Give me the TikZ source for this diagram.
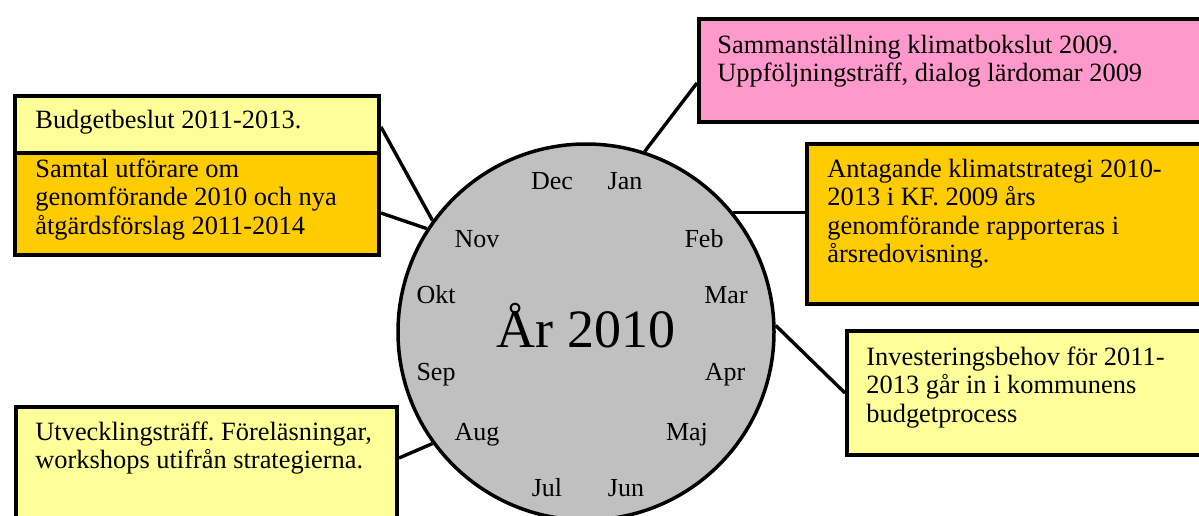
\documentclass[tikz,border=0pt]{standalone}
\usepackage{fontspec}
\setmainfont{Liberation Serif}
\usetikzlibrary{calc}
\definecolor{lyellow}{HTML}{FFFF99}
\definecolor{gold}{HTML}{FFCC00}
\definecolor{pinkbox}{HTML}{FF99CC}
\definecolor{greyc}{HTML}{C0C0C0}
\frenchspacing
\newcommand{\boxtext}[1]{\parbox[t]{300pt}{\raggedright #1}}
\begin{document}
\begin{tikzpicture}[x=0.5pt,y=-0.5pt,
 box/.style={draw=black,line width=2pt,rectangle,inner sep=0pt,anchor=north west},
 txt/.style={inner sep=0pt,anchor=base west,font=\fontsize{13.2}{14.3}\selectfont},
 mon/.style={inner sep=0pt,anchor=base,font=\fontsize{13}{14}\selectfont},
 conn/.style={line width=1.7pt}]
\useasboundingbox (0,0) rectangle (1199,515);
\clip (0,0) rectangle (1199,515);
% circle
\node[circle,draw=black,line width=1.75pt,fill=greyc,minimum size=188pt,inner sep=0pt] (circ) at (586,332) {};
% boxes
\node[box,fill=lyellow,minimum width=182pt,minimum height=28.5pt] (budtop) at (13,94) {};
\node[box,fill=gold,minimum width=182pt,minimum height=51pt] (samtal) at (13,151) {};
\node[box,fill=pinkbox,minimum width=266.5pt,minimum height=51.5pt] (pink) at (697,17) {};
\node[box,fill=gold,minimum width=212.5pt,minimum height=80pt] (antag) at (805,142) {};
\node[box,fill=lyellow,minimum width=192.5pt,minimum height=62pt] (invest) at (845,329) {};
\node[box,fill=lyellow,minimum width=190.5pt,minimum height=77.5pt] (utv) at (14,405) {};
% texts
\node[txt] (t1) at (35,128) {\boxtext{Budgetbeslut 2011-2013.}};
\node[txt] (t2) at (35,177) {\boxtext{Samtal utförare om\\genomförande 2010 och nya\\åtgärdsförslag 2011-2014}};
\node[txt] (t3) at (717,53) {\boxtext{Sammanställning klimatbokslut 2009.\\Uppföljningsträff, dialog lärdomar 2009}};
\node[txt] (t4) at (827,177) {\boxtext{Antagande klimatstrategi 2010-\\2013 i KF. 2009 års\\genomförande rapporteras i\\årsredovisning.}};
\node[txt] (t5) at (866,365) {\boxtext{Investeringsbehov för 2011-\\2013 går in i kommunens\\budgetprocess}};
\node[txt] (t6) at (35,440) {\boxtext{Utvecklingsträff. Föreläsningar,\\workshops utifrån strategierna.}};
% months
\node[mon] (dec) at (552,189) {Dec};
\node[mon] (jan) at (625,189) {Jan};
\node[mon] (nov) at (477,247) {Nov};
\node[mon] (feb) at (704,247) {Feb};
\node[mon] (okt) at (436,303) {Okt};
\node[mon] (mar) at (726,303) {Mar};
\node[mon] (sep) at (436,380) {Sep};
\node[mon] (apr) at (725,380) {Apr};
\node[mon] (aug) at (477,440) {Aug};
\node[mon] (maj) at (687,440) {Maj};
\node[mon] (jul) at (547,496) {Jul};
\node[mon] (jun) at (626,496) {Jun};
\node[inner sep=0pt,anchor=base,font=\fontsize{27}{30}\selectfont] (year) at (586,347) {År 2010};
% connectors
\draw[conn] ($(budtop.north east)+(0,33)$) -- (circ.144);
\draw[conn] ($(samtal.north east)+(0,62)$) -- (circ.147);
\draw[conn] ($(pink.north west)+(0,66)$) -- (circ.72);
\draw[conn] (circ.39) -- (circ.39 -| antag.west);
\draw[conn] (circ.2) -- ($(invest.north west)+(0,64)$);
\draw[conn] (circ.216) -- ($(utv.north east)+(0,53)$);
\end{tikzpicture}
\end{document}
